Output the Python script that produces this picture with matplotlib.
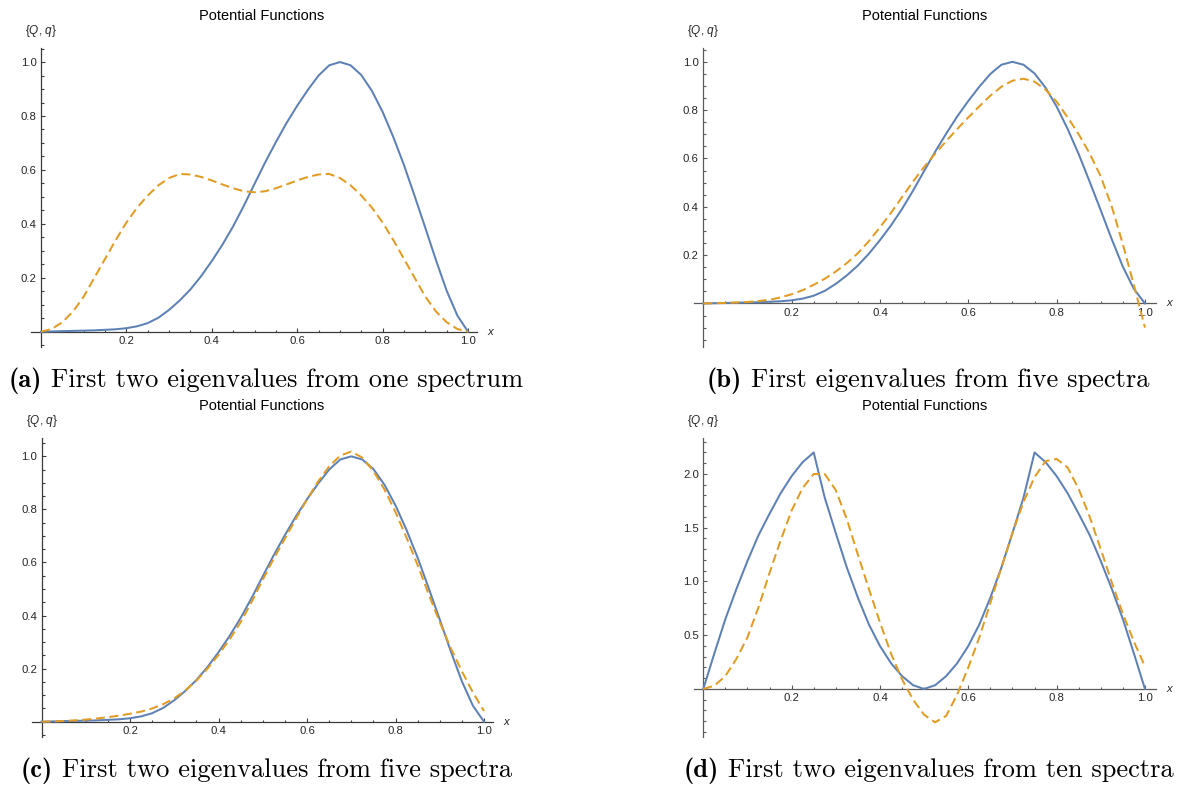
import matplotlib
matplotlib.use("Agg")
import matplotlib.pyplot as plt
import numpy as np
from matplotlib.ticker import FixedLocator, MultipleLocator, FormatStrFormatter

# ---------------- data ----------------
x_grid = [0.0, 0.025, 0.05, 0.075, 0.1, 0.125, 0.15, 0.175, 0.2, 0.225,
          0.25, 0.275, 0.3, 0.325, 0.35, 0.375, 0.4, 0.425, 0.45, 0.475,
          0.5, 0.525, 0.55, 0.575, 0.6, 0.625, 0.65, 0.675, 0.7, 0.725,
          0.75, 0.775, 0.8, 0.825, 0.85, 0.875, 0.9, 0.925, 0.95, 0.975, 1.0]

# true potential Q used in panels (a), (b), (c)
Q_abc = [0.0, 0.001, 0.002, 0.003, 0.004, 0.005, 0.007, 0.009, 0.013, 0.02,
         0.032, 0.052, 0.081, 0.116, 0.157, 0.206, 0.262, 0.323, 0.391, 0.467,
         0.548, 0.628, 0.703, 0.774, 0.838, 0.897, 0.95, 0.988, 1.0, 0.988,
         0.952, 0.893, 0.815, 0.722, 0.618, 0.503, 0.385, 0.265, 0.152, 0.06, 0.0]

# reconstructed q, panel (a): one spectrum
q_a = [0.0, 0.01, 0.035, 0.075, 0.13, 0.20, 0.27, 0.34, 0.405, 0.46,
       0.505, 0.543, 0.57, 0.585, 0.583, 0.574, 0.561, 0.546, 0.532, 0.521,
       0.517, 0.521, 0.532, 0.546, 0.561, 0.574, 0.583, 0.585, 0.57, 0.543,
       0.505, 0.46, 0.405, 0.34, 0.27, 0.20, 0.13, 0.075, 0.035, 0.01, 0.0]

# reconstructed q, panel (b): first eigenvalues from five spectra
q_b = [0.0, 0.001, 0.002, 0.004, 0.006, 0.01, 0.015, 0.025, 0.038, 0.055,
       0.077, 0.102, 0.132, 0.167, 0.208, 0.258, 0.315, 0.375, 0.44, 0.505,
       0.565, 0.62, 0.672, 0.722, 0.77, 0.816, 0.86, 0.897, 0.922, 0.93,
       0.918, 0.885, 0.835, 0.77, 0.70, 0.62, 0.525, 0.40, 0.245, 0.075, -0.10]

# reconstructed q, panel (c): first two eigenvalues from five spectra
q_c = [0.0, 0.001, 0.003, 0.005, 0.008, 0.012, 0.017, 0.023, 0.03, 0.038,
       0.05, 0.066, 0.088, 0.118, 0.155, 0.20, 0.252, 0.31, 0.375, 0.452,
       0.535, 0.615, 0.69, 0.765, 0.838, 0.905, 0.962, 1.003, 1.018, 0.995,
       0.945, 0.875, 0.79, 0.693, 0.59, 0.48, 0.375, 0.277, 0.19, 0.11, 0.04]

# panel (d): true potential with kinks at 0.25 and 0.75
Q_d = [0.0, 0.33, 0.65, 0.93, 1.19, 1.43, 1.63, 1.82, 1.98, 2.11,
       2.20, 1.78, 1.45, 1.13, 0.85, 0.60, 0.40, 0.24, 0.12, 0.035,
       0.0, 0.035, 0.12, 0.24, 0.40, 0.60, 0.85, 1.13, 1.45, 1.78,
       2.20, 2.11, 1.98, 1.82, 1.63, 1.43, 1.19, 0.93, 0.65, 0.33, 0.0]

q_d = [0.0, 0.03, 0.12, 0.28, 0.48, 0.76, 1.08, 1.38, 1.66, 1.87,
       2.00, 2.00, 1.85, 1.58, 1.25, 0.93, 0.62, 0.33, 0.09, -0.10,
       -0.24, -0.31, -0.25, -0.05, 0.20, 0.48, 0.80, 1.13, 1.45, 1.74,
       1.97, 2.12, 2.14, 2.06, 1.86, 1.60, 1.30, 0.99, 0.70, 0.44, 0.21]

x_major = [0.2, 0.4, 0.6, 0.8, 1.0]
y_major_unit = [0.2, 0.4, 0.6, 0.8, 1.0]
y_major_d = [0.5, 1.0, 1.5, 2.0]

title_text = "Potential Functions"
ylabel_text = r"{$Q$, $q$}"
xlabel_text = "x"
caption_tags = ["(a)", "(b)", "(c)", "(d)"]
caption_texts = ["First two eigenvalues from one spectrum",
                 "First eigenvalues from five spectra",
                 "First two eigenvalues from five spectra",
                 "First two eigenvalues from ten spectra"]

# ---------------- style ----------------
BLUE = "#5E81B5"
ORANGE = "#E09C24"
W, H = 1179, 787
plt.rcParams["font.family"] = ["Liberation Sans", "DejaVu Sans"]
plt.rcParams["mathtext.fontset"] = "custom"
plt.rcParams["mathtext.it"] = "Liberation Sans:italic"
plt.rcParams["mathtext.rm"] = "Liberation Sans"
plt.rcParams["lines.scale_dashes"] = False

fig = plt.figure(figsize=(W / 100, H / 100), dpi=100)


def fx(px):
    return px / W


def fy(py):
    return 1 - py / H


# panel boxes in pixel coordinates: (left, top, right, bottom)
panels = [
    dict(box=(31, 48.3, 477, 346.7), xlim=(-0.0234, 1.021), ylim=(-0.0556, 1.051),
         Q=Q_abc, q=q_a, ymaj=y_major_unit, ymin=0.05, axc="#3a3a3a", tcx=262),
    dict(box=(694, 48.3, 1156, 346.7), xlim=(-0.021, 1.025), ylim=(-0.179, 1.056),
         Q=Q_abc, q=q_b, ymaj=y_major_unit, ymin=0.05, axc="#5a5a5a", tcx=925),
    dict(box=(32, 438.3, 493, 736.7), xlim=(-0.0215, 1.0203), ylim=(-0.0565, 1.068),
         Q=Q_abc, q=q_c, ymaj=y_major_unit, ymin=0.05, axc="#3a3a3a", tcx=262),
    dict(box=(694, 438.3, 1156, 736.7), xlim=(-0.021, 1.025), ylim=(-0.444, 2.332),
         Q=Q_d, q=q_d, ymaj=y_major_d, ymin=0.1, axc="#5a5a5a", tcx=925),
]

for p in panels:
    l, t, r, b = p["box"]
    ax = fig.add_axes([fx(l), fy(b), fx(r) - fx(l), fy(t) - fy(b)])
    ax.set_xlim(*p["xlim"])
    ax.set_ylim(*p["ylim"])
    ax.patch.set_visible(False)
    for s in ("top", "right"):
        ax.spines[s].set_visible(False)
    ax.spines["left"].set_position(("data", 0))
    ax.spines["bottom"].set_position(("data", 0))
    for s in ("left", "bottom"):
        ax.spines[s].set_color(p["axc"])
        ax.spines[s].set_linewidth(0.9)
        ax.spines[s].set_zorder(1)
    ax.xaxis.set_major_locator(FixedLocator(x_major))
    ax.xaxis.set_minor_locator(MultipleLocator(0.05))
    ax.yaxis.set_major_locator(FixedLocator(p["ymaj"]))
    ax.yaxis.set_minor_locator(MultipleLocator(p["ymin"]))
    ax.xaxis.set_major_formatter(FormatStrFormatter("%.1f"))
    ax.yaxis.set_major_formatter(FormatStrFormatter("%.1f"))
    ax.tick_params(which="both", direction="in", color=p["axc"], width=0.8,
                   labelsize=8.2, labelcolor="#262626", pad=3.2)
    ax.tick_params(which="major", length=3.0)
    ax.tick_params(which="minor", length=1.8)
    ax.plot(x_grid, p["Q"], color=BLUE, lw=1.45, zorder=3, clip_on=False,
            solid_joinstyle="round")
    ax.plot(x_grid, p["q"], color=ORANGE, lw=1.45, zorder=4, clip_on=False,
            linestyle=(0, (6.5, 3.3)))
    # axis label "x" at the right end of the x axis
    span = p["xlim"][1] - p["xlim"][0]
    ax.text(p["xlim"][1] + 13.5 / (r - l) * span, 0, xlabel_text, style="italic",
            fontsize=8.2, color="#262626", ha="center", va="center", clip_on=False)
    # y label at the top of the y axis
    x0_px = l + (0 - p["xlim"][0]) / span * (r - l)
    fig.text(fx(x0_px), fy(t - 17.3), ylabel_text, fontsize=8.5, color="#262626",
             ha="center", va="center")
    # title
    fig.text(fx(p["tcx"]), fy(t - 32.3), title_text, fontsize=10.5, color="black",
             ha="center", va="center")

# ---------------- captions ----------------
fig.canvas.draw()
rend = fig.canvas.get_renderer()
base_fs = 18.0
probe_b = fig.text(0, 0, caption_tags[0], fontfamily="cmb10", fontsize=base_fs)
probe_r = fig.text(0, 0, caption_texts[0], fontfamily="cmr10", fontsize=base_fs)
wb = probe_b.get_window_extent(rend).width
wr = probe_r.get_window_extent(rend).width
wsp = 0.333 * base_fs * 100 / 72
fs = base_fs * 515.0 / (wb + wsp + wr)
probe_b.remove()
probe_r.remove()

cap_pos = [(266, 386.7), (928, 386.7), (266.5, 776.7), (928.5, 776.7)]
for tag, txt, (cx, by) in zip(caption_tags, caption_texts, cap_pos):
    tb = fig.text(0, 0, tag, fontfamily="cmb10", fontsize=fs, color="black", va="baseline")
    tr = fig.text(0, 0, txt, fontfamily="cmr10", fontsize=fs, color="black", va="baseline")
    w1 = tb.get_window_extent(rend).width
    w2 = tr.get_window_extent(rend).width
    sp = 0.333 * fs * 100 / 72
    x_start = cx - (w1 + sp + w2) / 2
    tb.set_position((fx(x_start), fy(by)))
    tr.set_position((fx(x_start + w1 + sp), fy(by)))

fig.savefig("out.png", dpi=100)
